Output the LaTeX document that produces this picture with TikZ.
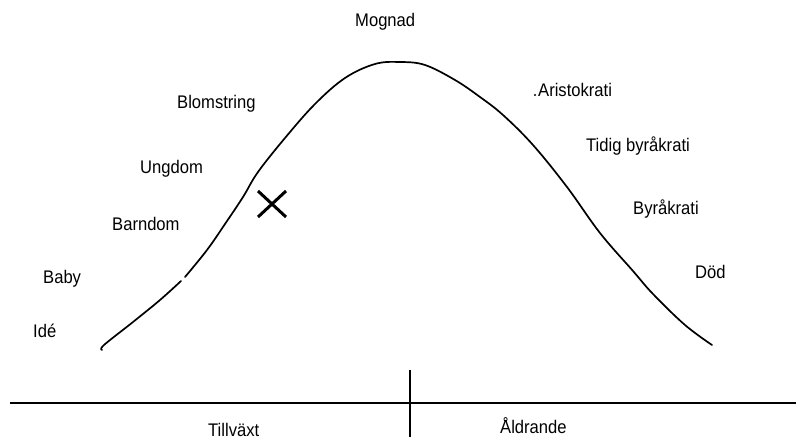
\documentclass[tikz,border=0pt]{standalone}
\usepackage{fontspec}
\setmainfont{Liberation Sans}
\begin{document}
\begin{tikzpicture}[x=1pt,y=-1pt,
  lbl/.style={anchor=base west,inner sep=0pt,font=\fontsize{16.6}{19}\selectfont},
  curve/.style={line width=1.7pt,line cap=round,line join=round}]
\useasboundingbox[fill=white] (0,0) rectangle (801,439);
% labels
\node[lbl] (mognad) at (355,27) {\scalebox{1}[1.1]{Mognad}};
\node[lbl] (blom) at (177,108) {\scalebox{1}[1.1]{Blomstring}};
\node[lbl] (ungdom) at (140,173) {\scalebox{1}[1.1]{Ungdom}};
\node[lbl] (barndom) at (112,230) {\scalebox{1}[1.1]{Barndom}};
\node[lbl] (baby) at (43,283) {\scalebox{1}[1.1]{Baby}};
\node[lbl] (ide) at (33,337) {\scalebox{1}[1.1]{Idé}};
\node[lbl] (aristo) at (538,96) {\scalebox{1}[1.1]{Aristokrati}};
\node[lbl] (tidig) at (586,151) {\scalebox{1}[1.1]{Tidig byråkrati}};
\node[lbl] (byra) at (633,214) {\scalebox{1}[1.1]{Byråkrati}};
\node[lbl] (dod) at (695,278) {\scalebox{1}[1.1]{Död}};
\node[lbl] (tillvaxt) at (208,436) {\scalebox{1}[1.1]{Tillväxt}};
\node[lbl] (aldrande) at (500,433) {\scalebox{1}[1.1]{Åldrande}};
\fill (535,95) circle (1.1pt);
% bell curve
\draw[curve] plot[smooth,tension=0.6] coordinates {(102,350) (104,345) (133,322) (160,300) (181,281)};
\draw[curve] plot[smooth,tension=0.6] coordinates {(185,277) (207,250) (225,224) (243,197) (258,172) (285,138) (315,104) (345,78) (375,64) (400,62) (425,65) (455,80) (480,97) (503,115) (533,145) (567,187) (600,233) (633,271) (653,294) (685,325) (712,345)};
% cross
\draw[line width=3pt] (258,191) -- (286,217) (258,217) -- (286,191);
% axis
\draw[line width=1.6pt] (10,403) -- (796,403);
\draw[line width=2pt] (410,370) -- (410,437);
\end{tikzpicture}
\end{document}
